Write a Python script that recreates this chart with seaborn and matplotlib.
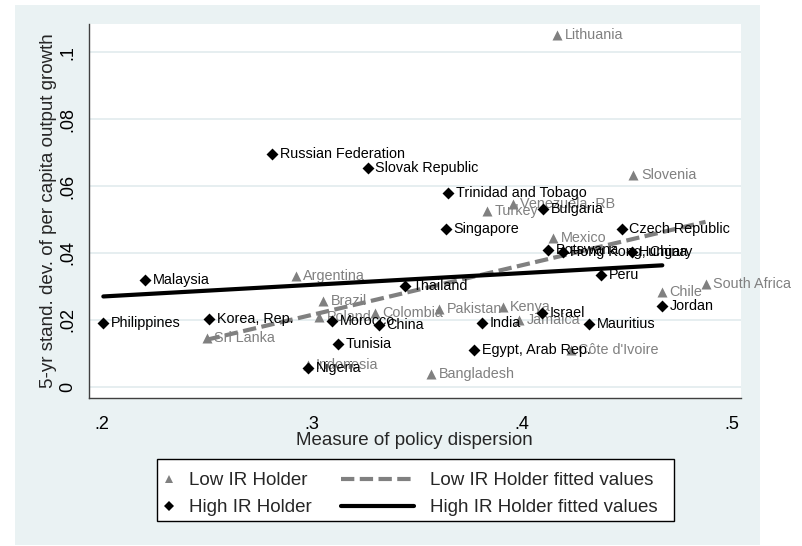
"""Stata-style scatter of output growth volatility vs policy dispersion,
split by IR holder group, with linear fitted values for each group."""

import matplotlib
matplotlib.use("Agg")

import pandas as pd
import matplotlib.pyplot as plt
import seaborn as sns
from matplotlib.lines import Line2D
from matplotlib.patches import Rectangle

# Low IR holders (grey triangles)
low_countries = [
    "Lithuania", "Slovenia", "Turkey", "Venezuela, RB", "Mexico", "Argentina",
    "Brazil", "Colombia", "Poland", "Sri Lanka", "Indonesia", "Pakistan",
    "Kenya", "Jamaica", "Bangladesh", "Côte d'Ivoire", "Chile", "South Africa",
]
low_dispersion = [
    0.4171, 0.4533, 0.3835, 0.3959, 0.4152, 0.2925,
    0.3057, 0.3303, 0.3037, 0.2501, 0.2985, 0.3608,
    0.3911, 0.3990, 0.3570, 0.4235, 0.4668, 0.4877,
]
low_growth_sd = [
    0.1053, 0.0633, 0.0525, 0.0545, 0.0446, 0.0331,
    0.0256, 0.0219, 0.0208, 0.0147, 0.0065, 0.0231,
    0.0239, 0.0199, 0.0037, 0.0110, 0.0284, 0.0307,
]

# High IR holders (black diamonds)
high_countries = [
    "Philippines", "Malaysia", "Korea, Rep.", "Russian Federation", "Slovak Republic",
    "Morocco", "China", "Tunisia", "Nigeria", "Thailand", "Trinidad and Tobago",
    "Singapore", "Bulgaria", "Czech Republic", "Botswana", "Hong Kong, China",
    "Hungary", "Peru", "Jordan", "Israel", "India", "Mauritius", "Egypt, Arab Rep.",
]
high_dispersion = [
    0.2009, 0.2208, 0.2512, 0.2812, 0.3268,
    0.3100, 0.3320, 0.3125, 0.2985, 0.3446, 0.3652,
    0.3640, 0.4104, 0.4478, 0.4128, 0.4197,
    0.4525, 0.4379, 0.4671, 0.4097, 0.3814, 0.4322, 0.3776,
]
high_growth_sd = [
    0.0191, 0.0319, 0.0202, 0.0695, 0.0655,
    0.0197, 0.0185, 0.0127, 0.0055, 0.0301, 0.0578,
    0.0471, 0.0530, 0.0471, 0.0409, 0.0404,
    0.0404, 0.0333, 0.0242, 0.0221, 0.0190, 0.0187, 0.0110,
]

x_ticks = [0.2, 0.3, 0.4, 0.5]
x_tick_labels = [".2", ".3", ".4", ".5"]
y_ticks = [0, 0.02, 0.04, 0.06, 0.08, 0.1]
y_tick_labels = ["0", ".02", ".04", ".06", ".08", ".1"]

GREY = "#808080"
BG = "#EAF2F3"
GRID = "#E2EBED"
AXIS = "#404040"


def label_points(ax, df, color, zorder):
    # marker labels at 3 o'clock, like Stata's mlabel()
    for _, row in df.iterrows():
        ax.annotate(row["country"], (row["dispersion"], row["sd"]),
                    xytext=(5.5, 0), textcoords="offset points",
                    va="center", ha="left", fontsize=10.4, color=color, zorder=zorder)


def main() -> None:
    sns.set_theme(style="white")
    plt.rcParams["font.family"] = ["Liberation Sans", "DejaVu Sans"]

    low = pd.DataFrame({"country": low_countries, "dispersion": low_dispersion, "sd": low_growth_sd})
    high = pd.DataFrame({"country": high_countries, "dispersion": high_dispersion, "sd": high_growth_sd})

    fig = plt.figure(figsize=(8.03, 5.46), dpi=100)
    fig.patch.set_facecolor("white")
    # graph region background (Stata s2color)
    fig.add_artist(Rectangle((15 / 803, 1 / 546), 745 / 803, 540 / 546,
                             transform=fig.transFigure, facecolor=BG, edgecolor="none", zorder=-10))

    ax = fig.add_axes([0.1105, 0.2711, 0.8119, 0.6850])
    ax.set_facecolor("white")

    sns.scatterplot(data=low, x="dispersion", y="sd", marker="^", s=52, color=GREY,
                    linewidth=0, ax=ax, zorder=2, legend=False)
    label_points(ax, low, GREY, 2)
    sns.regplot(data=low, x="dispersion", y="sd", scatter=False, ci=None, color=GREY, ax=ax,
                line_kws=dict(lw=3, dashes=(3.2, 1.3), zorder=3))

    sns.scatterplot(data=high, x="dispersion", y="sd", marker="D", s=37, color="black",
                    linewidth=0, ax=ax, zorder=4, legend=False)
    label_points(ax, high, "black", 4)
    sns.regplot(data=high, x="dispersion", y="sd", scatter=False, ci=None, color="black", ax=ax,
                line_kws=dict(lw=3, zorder=5))

    ax.set_xlim(0.19395, 0.50443)
    ax.set_ylim(-0.00338, 0.10846)
    ax.set_xticks(x_ticks)
    ax.set_xticklabels(x_tick_labels)
    ax.set_yticks(y_ticks)
    ax.set_yticklabels(y_tick_labels, rotation=90, va="center")
    ax.tick_params(axis="both", direction="out", length=5, width=1, color=AXIS,
                   labelsize=13, labelcolor="black")
    ax.tick_params(axis="x", pad=8)
    ax.tick_params(axis="y", pad=4)
    ax.set_xlabel("Measure of policy dispersion", fontsize=13.5, labelpad=-0.5)
    ax.set_ylabel("5-yr stand. dev. of per capita output growth", fontsize=13.5, labelpad=1.5)

    ax.yaxis.grid(True, color=GRID, lw=1.2)
    ax.set_axisbelow(True)
    for side in ("top", "right"):
        ax.spines[side].set_visible(False)
    for side in ("left", "bottom"):
        ax.spines[side].set_color(AXIS)
        ax.spines[side].set_linewidth(1)

    # legend: frame + two borderless legends (marker column and line column)
    fig.add_artist(Rectangle((157 / 803, 25 / 546), 517 / 803, 62 / 546, transform=fig.transFigure,
                             facecolor="white", edgecolor="black", lw=1, zorder=1))
    marker_handles = [
        Line2D([], [], marker="^", color=GREY, ls="none", markersize=6, markeredgewidth=0),
        Line2D([], [], marker="D", color="black", ls="none", markersize=5.5, markeredgewidth=0),
    ]
    line_handles = [
        Line2D([], [], color=GREY, lw=3, dashes=(3.2, 1.3)),
        Line2D([], [], color="black", lw=3),
    ]
    leg_y = (546 - 494.3) / 546
    fig.legend(marker_handles, ["Low IR Holder", "High IR Holder"], loc="center left",
               bbox_to_anchor=(160 / 803, leg_y), frameon=False, fontsize=13.5,
               handlelength=0.95, handletextpad=0.6, labelspacing=0.52,
               borderpad=0, borderaxespad=0)
    fig.legend(line_handles, ["Low IR Holder fitted values", "High IR Holder fitted values"],
               loc="center left", bbox_to_anchor=(341 / 803, leg_y), frameon=False, fontsize=13.5,
               handlelength=3.9, handletextpad=0.85, labelspacing=0.52,
               borderpad=0, borderaxespad=0)

    fig.savefig("out.png", dpi=100)


if __name__ == "__main__":
    main()
